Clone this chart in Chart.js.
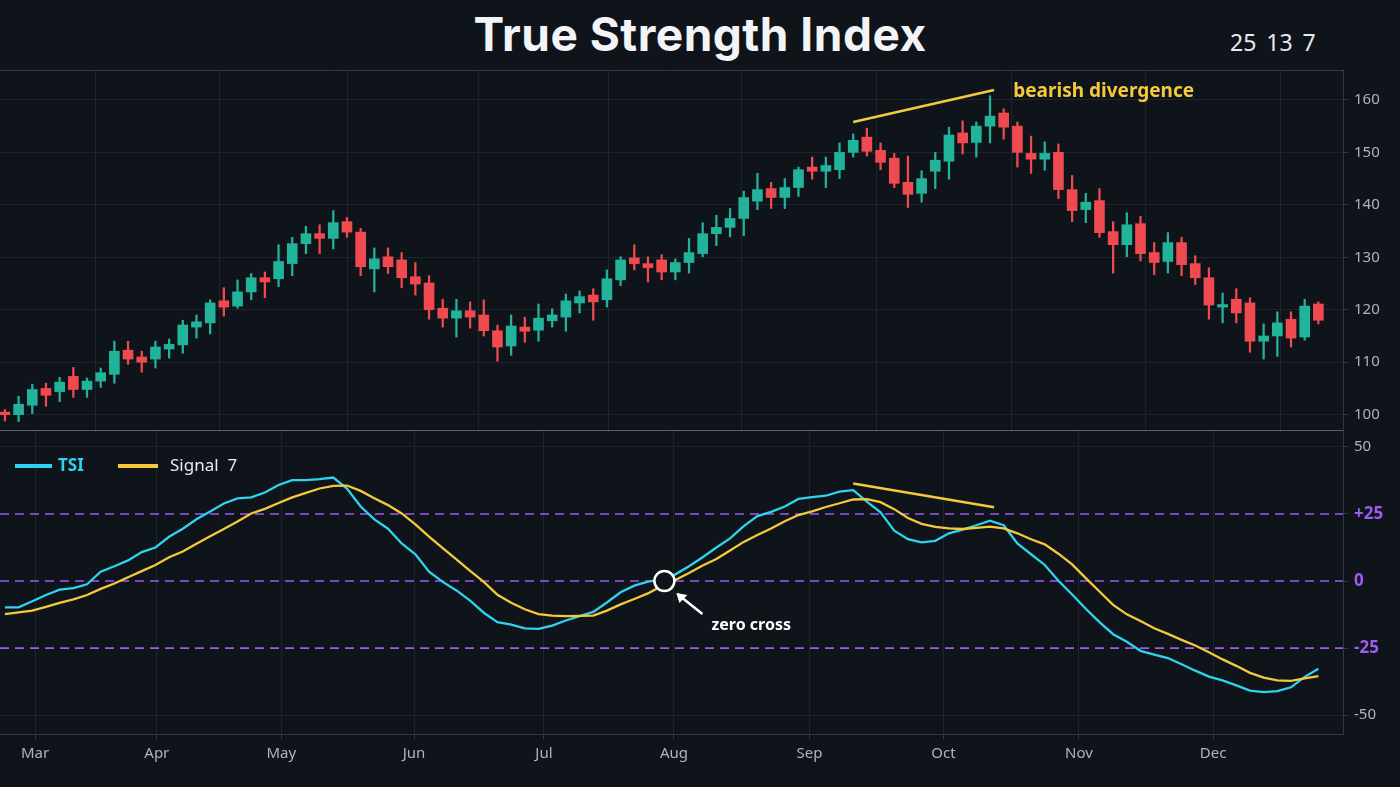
<!DOCTYPE html>
<html>
<head>
<meta charset="utf-8">
<script src="https://cdn.jsdelivr.net/npm/chart.js@4.4.1/dist/chart.umd.min.js"></script>
<style>
  body { margin: 0; background: #0f131a; width: 1400px; height: 787px; overflow: hidden; font-family: 'Noto Sans', sans-serif; }
  #title { position: absolute; left: 0; width: 1400px; top: 6px; text-align: center; color: #f2f4f7; font: 700 46px Inter, 'Open Sans', sans-serif; letter-spacing: 0.5px; }
  #params { position: absolute; left: 1230px; top: 26px; color: #e6e9ee; font: 400 23px 'Noto Sans', sans-serif; word-spacing: 4px; }
  #top { position: absolute; left: 0; top: 55px; width: 1400px; height: 392px; }
  #bottom { position: absolute; left: 0; top: 415px; width: 1400px; height: 360px; }
</style>
</head>
<body>
<div id="title">True Strength Index</div>
<div id="params">25 13 7</div>
<div id="top"><canvas id="price"></canvas></div>
<div id="bottom"><canvas id="tsi"></canvas></div>
<script>
// candele: open, close, high, low (una ogni ~2-3 giorni, da marzo a dicembre)
var opens  = [100.5,100,101.8,105,104.4,107.3,104.8,106.4,107.7,112.3,111,110.6,112.5,113.3,116.7,117.5,121.7,120.7,123.4,126.1,125.9,128.8,132.6,134.5,133.6,136.8,134.8,127.8,130.1,129.5,126.3,125.1,120.3,118.4,119.8,119,116,113.1,116.7,116.1,117.9,118.6,121.3,122.8,121.9,125.7,129.9,128.8,129.5,127.2,129,130.7,134.5,135.7,137.4,140.7,143.1,141.4,143.3,147.2,146.4,146.7,150,152.9,150.4,148.9,144.3,142.2,146.4,148.3,153.7,151.9,155,157.5,155,149.8,148.7,150,142.9,139.1,140.8,134.9,132.4,136.4,130.9,129.2,132.8,128.8,126.1,120.5,122,121.3,114,115,118.2,114.8,121.1];
var closes = [100,102,104.8,103.7,106.2,104.8,106.4,108,112.1,110.6,110,112.9,113.4,117.1,117.7,121.3,120.5,123.4,126.1,125.3,129.2,132.6,134.5,133.6,136.6,134.8,128.2,129.7,128.2,126.1,124.9,120,118.4,119.8,118.6,116,112.9,116.9,115.9,118.4,119,121.7,122.5,121.5,125.9,129.5,128.8,128,127.2,129,130.9,134.5,135.7,137.4,141.4,142.9,141.4,143.3,146.7,146.4,147.5,150,152.3,150.2,148.1,144.1,142,145,148.5,153.3,151.8,155,156.9,154.8,150,148.7,149.8,142.9,138.9,140.5,134.7,132.4,136.2,130.7,129,132.8,128.6,126.1,120.9,121,119.4,114,115,117.5,114.6,120.7,118];
var highs  = [101,103.5,105.8,106,107.1,109,107,108.9,114,114,112.1,114,114.4,118,119,121.9,124.2,125.7,126.9,127.2,132.4,133.8,135.9,136.2,138.9,137.6,135.5,131.8,131.8,130.9,129,126.5,122,122,121.5,121.9,117.1,119,118.6,121.1,120.2,123,123.6,124,127.6,130.1,132.4,130.1,130.5,129.7,133.6,136.6,138,139.3,142.6,146,144.3,145,147.2,149.1,149.1,151.8,153.5,154.6,151.8,149.8,149.3,146.5,150,154.8,156,155.8,160.8,158.3,155.8,153.1,152,151.6,145.6,142.2,143.1,136.8,138.5,137.8,132.8,134.7,133.8,130.3,128,123.2,124,122.3,117.3,119.6,119.6,122,121.5];
var lows   = [98.8,98.7,100.2,101.6,102.5,103.3,103.3,105.2,106,109.6,108.1,108.9,110.8,111.7,114.6,115.4,118.8,120.3,121.9,122.3,124.4,126.5,130.7,130.7,131.6,133.8,126.5,123.4,126.9,124.2,122.8,118.2,116.7,114.8,116.5,115,110.2,111.3,113.8,114,116.7,115.9,119.4,118,120.5,124.6,127.6,125.3,125.7,125.7,127,130.1,132.2,133.9,134.1,139.1,139.3,139.3,141.6,144.9,143.3,145,149.1,149.3,146.7,143.3,139.5,140.5,143.1,144.9,149.7,149.1,151.8,152.5,147.2,146,146.6,141.2,136.8,136.6,133.8,127,130.1,129.3,126.7,127,126.5,124.8,118.2,117.5,117.5,111.9,110.6,111.1,112.9,114.2,117.3];

var tsiValues    = [-9.8,-9.8,-7.5,-5.2,-3.2,-2.6,-1.2,3.5,5.5,7.7,10.8,12.5,16.5,19.5,23,25.9,28.9,30.8,31.2,33,35.8,37.6,37.6,38,38.6,34.5,27.8,23,19.5,14,10,3.5,-0.3,-3.5,-7.3,-11.8,-15.3,-16.2,-17.6,-17.8,-16.6,-14.7,-13.1,-11.5,-8,-4.2,-1.7,-0.2,0.5,2.5,5.5,8.9,12.5,15.9,20.5,24.2,25.8,27.8,30.6,31.3,31.8,33.3,33.9,29.6,25.6,18.8,15.6,14.4,15,17.8,19.2,20.8,22.5,20.8,14,10,6,0.1,-5,-10.3,-15.3,-19.8,-22.6,-26,-27.4,-28.7,-31,-33.4,-35.6,-37,-38.9,-40.8,-41.4,-41,-39.6,-35.7,-32.7];
var signalValues = [-12.3,-11.7,-11,-9.6,-8.1,-6.8,-5.2,-2.9,-0.9,1.4,3.7,6,8.9,11,13.9,16.7,19.4,22.2,25.2,26.9,29.1,31.2,32.9,34.5,35.5,35.6,33.6,30.9,28.3,25.2,21.1,16.6,12.3,8.1,3.8,-0.3,-5.1,-8.1,-10.5,-12.3,-12.9,-13.1,-13,-12.9,-11,-8.7,-6.7,-4.6,-1.8,0.4,3,5.8,8.2,11.4,14.6,17.2,19.6,22.3,24.6,26,27.6,29,30.4,30.5,29.4,26.8,23.5,21.3,20.2,19.6,19.4,19.8,20.3,19.6,17.8,15.6,13.7,10.2,6.2,1.1,-3.9,-8.9,-12.4,-14.9,-17.6,-19.7,-21.9,-24,-26.5,-29.2,-31.6,-34.2,-36,-37,-37.2,-36.3,-35.4];

var monthLabels = ['Mar','Apr','May','Jun','Jul','Aug','Sep','Oct','Nov','Dec'];
var monthPos    = [2.2,11.1,20.2,29.9,39.4,48.9,58.8,68.6,78.5,88.3];
var priceTicks  = [100,110,120,130,140,150,160];
var tsiTicks    = [-50,-25,0,25,50];
var tsiLevels   = [25,0,-25];

var UP = '#22b39b', DOWN = '#ef4a4f', DOJI = '#8a9a96';
var CYAN = '#2fd3ee', YELLOW = '#f4ca3c', PURPLE = '#9d5cf0';
var GRID = '#1e242d', FRAME = '#323943', TICK = '#aeb4bd';
var RIGHT_W = 57;

Chart.defaults.font.family = "'Noto Sans', sans-serif";
Chart.defaults.animation = false;

function candleColor(i) {
    if (Math.abs(opens[i] - closes[i]) < 0.3) return DOJI;
    return closes[i] >= opens[i] ? UP : DOWN;
}

var wicks = [], bodies = [], colors = [];
for (var i = 0; i < opens.length; i++) {
    wicks.push({ x: i, y: [lows[i], highs[i]] });
    var lo = Math.min(opens[i], closes[i]), hi = Math.max(opens[i], closes[i]);
    if (hi - lo < 0.5) hi = lo + 0.5;
    bodies.push({ x: i, y: [lo, hi] });
    colors.push(candleColor(i));
}

function xScale(showLabels) {
    return {
        type: 'linear', min: -0.36, max: 97.8, offset: false,
        afterBuildTicks: function (s) { s.ticks = monthPos.map(function (v) { return { value: v }; }); },
        ticks: {
            display: showLabels, color: TICK, font: { size: 15 }, padding: 6, maxRotation: 0, autoSkip: false,
            callback: function (v) { return monthLabels[monthPos.indexOf(v)]; }
        },
        grid: { color: GRID, drawTicks: showLabels, tickLength: 5, tickColor: FRAME },
        border: { display: showLabels, color: FRAME },
        afterFit: showLabels ? undefined : function (s) { s.height = 0; }
    };
}

var framePlugin = {
    id: 'frame',
    beforeDatasetsDraw: function (chart) {
        var a = chart.chartArea, ctx = chart.ctx;
        ctx.save();
        ctx.strokeStyle = FRAME;
        ctx.lineWidth = 1;
        ctx.beginPath();
        ctx.moveTo(a.left, a.top + 0.5); ctx.lineTo(a.right, a.top + 0.5);
        ctx.stroke();
        ctx.restore();
    }
};

var divergencePricePlugin = {
    id: 'divPrice',
    afterDatasetsDraw: function (chart) {
        var x = chart.scales.x, y = chart.scales.y, ctx = chart.ctx;
        ctx.save();
        ctx.strokeStyle = YELLOW; ctx.lineWidth = 2.5;
        ctx.beginPath();
        ctx.moveTo(x.getPixelForValue(62), y.getPixelForValue(155.8));
        ctx.lineTo(x.getPixelForValue(72.3), y.getPixelForValue(161.9));
        ctx.stroke();
        ctx.fillStyle = YELLOW;
        ctx.font = "700 19px 'Noto Sans', sans-serif";
        ctx.textBaseline = 'middle';
        ctx.fillText('bearish divergence', x.getPixelForValue(73.7), y.getPixelForValue(161.5));
        ctx.restore();
    }
};

new Chart(document.getElementById('price'), {
    type: 'bar',
    data: {
        datasets: [
            { data: wicks, backgroundColor: colors, barThickness: 1.6, grouped: false, order: 2 },
            { data: bodies, backgroundColor: colors, barThickness: 10, grouped: false, order: 1 }
        ]
    },
    options: {
        responsive: true, maintainAspectRatio: false,
        layout: { padding: 0 },
        plugins: { legend: { display: false }, tooltip: { enabled: false } },
        scales: {
            x: xScale(false),
            y: {
                position: 'right', min: 96.7, max: 165.7,
                afterBuildTicks: function (s) { s.ticks = priceTicks.map(function (v) { return { value: v }; }); },
                afterFit: function (s) { s.width = RIGHT_W; },
                ticks: { color: TICK, font: { size: 15 }, padding: 6 },
                grid: { color: GRID, tickColor: FRAME, tickLength: 5 },
                border: { color: FRAME }
            }
        }
    },
    plugins: [framePlugin, divergencePricePlugin]
});

var tsiPlugin = {
    id: 'tsiExtras',
    beforeDatasetsDraw: function (chart) {
        var a = chart.chartArea, y = chart.scales.y, ctx = chart.ctx;
        ctx.save();
        ctx.strokeStyle = '#59606b'; ctx.lineWidth = 1;
        ctx.beginPath(); ctx.moveTo(a.left, a.top + 0.5); ctx.lineTo(a.right, a.top + 0.5); ctx.stroke();
        ctx.strokeStyle = PURPLE; ctx.lineWidth = 1.6; ctx.setLineDash([9, 6]);
        tsiLevels.forEach(function (v) {
            var py = y.getPixelForValue(v);
            ctx.beginPath(); ctx.moveTo(a.left, py); ctx.lineTo(a.right, py); ctx.stroke();
        });
        ctx.restore();
    },
    afterDatasetsDraw: function (chart) {
        var x = chart.scales.x, y = chart.scales.y, ctx = chart.ctx;
        ctx.save();
        // divergenza
        ctx.strokeStyle = YELLOW; ctx.lineWidth = 2.5;
        ctx.beginPath();
        ctx.moveTo(x.getPixelForValue(62), y.getPixelForValue(36.4));
        ctx.lineTo(x.getPixelForValue(72.3), y.getPixelForValue(27.5));
        ctx.stroke();
        // zero cross
        var cx = x.getPixelForValue(48.2), cy = y.getPixelForValue(0);
        ctx.strokeStyle = '#ffffff'; ctx.lineWidth = 2.5;
        ctx.fillStyle = '#0f131a';
        ctx.beginPath(); ctx.arc(cx, cy, 10, 0, Math.PI * 2); ctx.fill(); ctx.stroke();
        var ax = cx + 13, ay = cy + 13, bx = cx + 38, by = cy + 33;
        ctx.beginPath(); ctx.moveTo(bx, by); ctx.lineTo(ax, ay); ctx.stroke();
        ctx.beginPath();
        ctx.moveTo(ax - 1, ay - 1); ctx.lineTo(ax + 10, ay + 1); ctx.lineTo(ax + 2, ay + 9); ctx.closePath();
        ctx.fillStyle = '#ffffff'; ctx.fill();
        ctx.font = "700 16px 'Noto Sans', sans-serif";
        ctx.textBaseline = 'middle';
        ctx.fillText('zero cross', cx + 47, cy + 44);
        // legenda
        var ly = chart.chartArea.top + 36;
        ctx.strokeStyle = CYAN; ctx.lineWidth = 4;
        ctx.beginPath(); ctx.moveTo(15, ly); ctx.lineTo(52, ly); ctx.stroke();
        ctx.fillStyle = CYAN; ctx.font = "700 17px 'Noto Sans', sans-serif";
        ctx.fillText('TSI', 58, ly);
        ctx.strokeStyle = YELLOW;
        ctx.beginPath(); ctx.moveTo(118, ly); ctx.lineTo(158, ly); ctx.stroke();
        ctx.fillStyle = '#e8ebef'; ctx.font = "400 17px 'Noto Sans', sans-serif";
        ctx.fillText('Signal  7', 170, ly);
        ctx.restore();
    }
};

function isLevel(c) { return !!(c && c.tick && tsiLevels.indexOf(c.tick.value) >= 0); }

new Chart(document.getElementById('tsi'), {
    type: 'line',
    data: {
        datasets: [
            { label: 'Signal 7', data: signalValues.map(function (v, i) { return { x: i, y: v }; }), borderColor: YELLOW, borderWidth: 2.3, pointRadius: 0, tension: 0 },
            { label: 'TSI', data: tsiValues.map(function (v, i) { return { x: i, y: v }; }), borderColor: CYAN, borderWidth: 2.3, pointRadius: 0, tension: 0 }
        ]
    },
    options: {
        responsive: true, maintainAspectRatio: false,
        layout: { padding: { bottom: 6 } },
        plugins: { legend: { display: false }, tooltip: { enabled: false } },
        scales: {
            x: xScale(true),
            y: {
                position: 'right', min: -57, max: 56.3,
                afterBuildTicks: function (s) { s.ticks = tsiTicks.map(function (v) { return { value: v }; }); },
                afterFit: function (s) { s.width = RIGHT_W; },
                ticks: {
                    padding: 6,
                    color: function (c) { return isLevel(c) ? PURPLE : TICK; },
                    font: function (c) { return isLevel(c) ? { size: 17, weight: '700' } : { size: 15 }; },
                    callback: function (v) { return v === 25 ? '+25' : String(v); }
                },
                grid: { color: function (c) { return isLevel(c) ? 'rgba(0,0,0,0)' : GRID; }, tickColor: FRAME, tickLength: 5 },
                border: { color: FRAME }
            }
        }
    },
    plugins: [tsiPlugin]
});
</script>
</body>
</html>
